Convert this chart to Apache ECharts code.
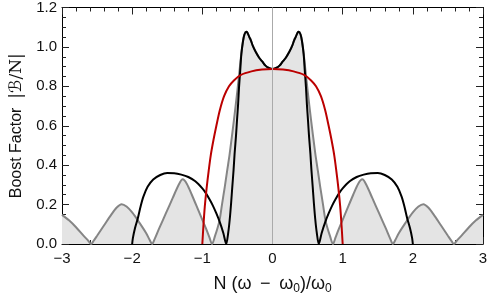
<!DOCTYPE html>
<html>
<head>
<meta charset="utf-8">
<script src="https://cdn.jsdelivr.net/npm/echarts@6/dist/echarts.min.js"></script>
<style>
html,body{margin:0;padding:0;background:#fff;}
#c{width:491px;height:302px;}
</style>
</head>
<body>
<div id="c"></div>
<script>
// Gray curve (filled)
const grayX = [-3.0,-2.9,-2.8,-2.7,-2.62,-2.586,-2.55,-2.5,-2.4,-2.3,-2.22,-2.15,-2.08,-2.0,-1.9,-1.8,-1.75,-1.716,-1.68,-1.62,-1.52,-1.42,-1.34,-1.28,-1.22,-1.15,-1.05,-0.95,-0.9,-0.862,-0.82,-0.78,-0.753,-0.72,-0.68,-0.645,-0.61,-0.55,-0.5,-0.47,-0.445,-0.42,-0.40,-0.373,-0.357,-0.33,-0.31,-0.28,-0.24,-0.19,-0.144,-0.10,-0.05,0,
  0.05,0.10,0.144,0.19,0.24,0.28,0.31,0.33,0.357,0.373,0.40,0.42,0.445,0.47,0.5,0.55,0.61,0.645,0.68,0.72,0.753,0.78,0.82,0.862,0.9,0.95,1.05,1.15,1.22,1.28,1.34,1.42,1.52,1.62,1.68,1.716,1.75,1.8,1.9,2.0,2.08,2.15,2.22,2.3,2.4,2.5,2.55,2.586,2.62,2.7,2.8,2.9,3.0];
const grayY = [0.148,0.12,0.085,0.045,0.014,0,0.016,0.042,0.095,0.148,0.185,0.202,0.19,0.16,0.11,0.055,0.02,0,0.025,0.075,0.155,0.235,0.298,0.328,0.305,0.25,0.165,0.08,0.035,0,0.04,0.085,0.123,0.2,0.29,0.375,0.459,0.627,0.78,0.88,0.963,1.03,1.063,1.077,1.072,1.05,1.035,1.005,0.975,0.945,0.925,0.905,0.893,0.888,
  0.893,0.905,0.925,0.945,0.975,1.005,1.035,1.05,1.072,1.077,1.063,1.03,0.963,0.88,0.78,0.627,0.459,0.375,0.29,0.2,0.123,0.085,0.04,0,0.035,0.08,0.165,0.25,0.305,0.328,0.298,0.235,0.155,0.075,0.025,0,0.02,0.055,0.11,0.16,0.19,0.202,0.185,0.148,0.095,0.042,0.016,0,0.014,0.045,0.085,0.12,0.148];

// Black curve
const blackX = [-2.0,-1.99,-1.96,-1.92,-1.88,-1.84,-1.78,-1.7,-1.6,-1.5,-1.4,-1.3,-1.2,-1.1,-1.0,-0.95,-0.9,-0.85,-0.8,-0.75,-0.7,-0.66,
  -0.63,-0.61,-0.59,-0.573,-0.555,-0.54,-0.52,-0.506,-0.49,-0.477,-0.46,-0.444,-0.42,-0.40,-0.373,-0.357,-0.33,-0.31,-0.28,-0.24,-0.19,-0.144,-0.10,-0.05,0,
  0.05,0.10,0.144,0.19,0.24,0.28,0.31,0.33,0.357,0.373,0.40,0.42,0.444,0.46,0.477,0.49,0.506,0.52,0.54,0.555,0.573,0.59,0.61,0.63,0.66,
  0.7,0.75,0.8,0.85,0.9,0.95,1.0,1.1,1.2,1.3,1.4,1.5,1.6,1.7,1.78,1.84,1.88,1.92,1.96,1.99,2.0];
const blackY = [0,0.03,0.08,0.13,0.19,0.24,0.29,0.327,0.35,0.36,0.359,0.352,0.34,0.318,0.282,0.258,0.228,0.195,0.155,0.11,0.055,0,
  0.06,0.123,0.207,0.29,0.375,0.459,0.55,0.627,0.71,0.795,0.88,0.963,1.03,1.063,1.077,1.072,1.05,1.035,1.005,0.975,0.945,0.925,0.905,0.893,0.888,
  0.893,0.905,0.925,0.945,0.975,1.005,1.035,1.05,1.072,1.077,1.063,1.03,0.963,0.88,0.795,0.71,0.627,0.55,0.459,0.375,0.29,0.207,0.123,0.06,0,
  0.055,0.11,0.155,0.195,0.228,0.258,0.282,0.318,0.34,0.352,0.359,0.36,0.35,0.327,0.29,0.24,0.19,0.13,0.08,0.03,0];

// Red curve
const redX = [-1.0,-0.985,-0.965,-0.94,-0.91,-0.88,-0.84,-0.8,-0.75,-0.69,-0.62,-0.55,-0.45,-0.3,-0.15,0,0.15,0.3,0.45,0.55,0.62,0.69,0.75,0.8,0.84,0.88,0.91,0.94,0.965,0.985,1.0];
const redY = [0,0.09,0.19,0.28,0.37,0.45,0.53,0.6,0.68,0.75,0.8,0.83,0.858,0.876,0.885,0.888,0.885,0.876,0.858,0.83,0.8,0.75,0.68,0.6,0.53,0.45,0.37,0.28,0.19,0.09,0];

const xTicks = {min:-3, max:3, step:1};
const yTicks = {min:0, max:1.2, step:0.2};

const zip = (xs, ys) => xs.map((x, i) => [x, ys[i]]);

const chart = echarts.init(document.getElementById('c'), null, {renderer:'canvas'});
const FONT = 'Liberation Sans, Arial, sans-serif';
const axisCommon = {
  type:'value',
  axisLine:{show:true, onZero:false, lineStyle:{color:'#000', width:1}},
  axisTick:{show:true, inside:true, length:7, lineStyle:{color:'#222', width:1}},
  splitLine:{show:false},
};
const xFmt = v => v < 0 ? '\u2212' + Math.abs(v) : String(v);
chart.setOption({
  animation:false,
  backgroundColor:'#fff',
  grid:{left:62, right:8, top:7, bottom:58},
  xAxis:[
    Object.assign({}, axisCommon, {
      position:'bottom', min:xTicks.min, max:xTicks.max, interval:xTicks.step,
      minorTick:{show:true, splitNumber:5, length:4, lineStyle:{color:'#222', width:1}},
      axisLabel:{formatter:xFmt, fontSize:15, color:'#111', fontFamily:FONT, margin:7},
      name:'{a|N (\u03C9 \u2009\u2212\u2009 \u03C9}{s|0}{a|)/\u03C9}{s|0}',
      nameLocation:'middle', nameGap:29,
      nameTextStyle:{rich:{
        a:{fontSize:18, fontFamily:FONT, color:'#111', lineHeight:22},
        s:{fontSize:12, fontFamily:FONT, color:'#111', lineHeight:12, verticalAlign:'bottom'}
      }}
    }),
    Object.assign({}, axisCommon, {
      position:'top', min:xTicks.min, max:xTicks.max, interval:xTicks.step,
      minorTick:{show:true, splitNumber:5, length:4, lineStyle:{color:'#222', width:1}},
      axisLabel:{show:false}
    })
  ],
  yAxis:[
    Object.assign({}, axisCommon, {
      position:'left', min:yTicks.min, max:yTicks.max, interval:yTicks.step,
      minorTick:{show:true, splitNumber:4, length:4, lineStyle:{color:'#222', width:1}},
      axisLabel:{formatter:v => v.toFixed(1), fontSize:15, color:'#111', fontFamily:FONT, margin:5},
      name:'{a|Boost Factor  }{b||\u212C/N|}', nameLocation:'middle', nameGap:36, nameRotate:90,
      nameTextStyle:{rich:{
        a:{fontSize:16, fontFamily:FONT, color:'#111'},
        b:{fontSize:17, fontFamily:'DejaVu Serif, DejaVu Sans, serif', color:'#111'}
      }}
    }),
    Object.assign({}, axisCommon, {
      position:'right', min:yTicks.min, max:yTicks.max, interval:yTicks.step,
      minorTick:{show:true, splitNumber:4, length:4, lineStyle:{color:'#222', width:1}},
      axisLabel:{show:false}
    })
  ],
  series:[
    {
      type:'line', data:zip(grayX, grayY), smooth:0.3, showSymbol:false, z:2,
      lineStyle:{color:'#858585', width:2},
      areaStyle:{color:'#e4e4e4', opacity:1, origin:'start'},
      markLine:{silent:true, symbol:'none', label:{show:false},
        lineStyle:{color:'#aaaaaa', width:1, type:'solid'},
        data:[{xAxis:0}]}
    },
    {
      type:'line', data:zip(blackX, blackY), smooth:0.3, showSymbol:false, z:3,
      lineStyle:{color:'#000', width:2}
    },
    {
      type:'line', data:zip(redX, redY), smooth:0.3, showSymbol:false, z:4,
      lineStyle:{color:'#bb0000', width:2}
    }
  ]
});
</script>
</body>
</html>
